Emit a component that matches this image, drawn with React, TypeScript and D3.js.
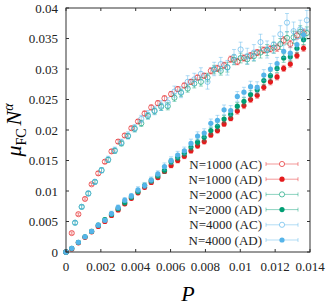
import React from 'react';
import * as d3 from 'd3';

// sampling points (AD runs and N=1000 AC share the first grid)
const P_GRID = [0, 0.00033, 0.00071, 0.00109, 0.00147, 0.00185, 0.00223, 0.00261, 0.00299, 0.00337,
  0.00375, 0.00413, 0.00451, 0.00489, 0.00527, 0.00565, 0.00603, 0.00641, 0.00679, 0.00717,
  0.00755, 0.00793, 0.00831, 0.00869, 0.00907, 0.00945, 0.00983, 0.01021, 0.01059, 0.01097,
  0.01135, 0.01173, 0.01211, 0.01249, 0.01287, 0.01325, 0.01363];
const P_GRID_SHIFT = [0, 0.00052, 0.0009, 0.00128, 0.00166, 0.00204, 0.00242, 0.0028, 0.00318, 0.00356,
  0.00394, 0.00432, 0.0047, 0.00508, 0.00546, 0.00584, 0.00622, 0.0066, 0.00698, 0.00736,
  0.00774, 0.00812, 0.0085, 0.00888, 0.00926, 0.00964, 0.01002, 0.0104, 0.01078, 0.01116,
  0.01154, 0.01192, 0.0123, 0.01268, 0.01306, 0.01344, 0.01382];

const ac1000 = [0, .0031, .0062, .0087, .0111, .0129, .0148, .0165, .0181, .0191, .0203, .0214, .0227, .0237,
  .0244, .0252, .0259, .0267, .0273, .0279, .0286, .0289, .0297, .0301, .0306, .0316, .0312, .0318, .0322,
  .0327, .0331, .0333, .0335, .0347, .0341, .0355, .0359];
const ac1000Err = [0, .0002, .0002, .0002, .0002, .0003, .0003, .0003, .0003, .0003, .0003, .0003, .0004, .0004,
  .0004, .0004, .0004, .0004, .0004, .0004, .0004, .0004, .0005, .0005, .0005, .0005, .0005, .0005, .0005,
  .0005, .0005, .0005, .0006, .0006, .0006, .0006, .0006];
const ad1000 = [0, .0005, .0015, .0024, .0033, .0042, .0050, .0060, .0069, .0079, .0088, .0097, .0106, .0114,
  .0122, .0132, .0142, .0150, .0157, .0166, .0174, .0181, .0192, .0199, .0210, .0219, .0231, .0240, .0250,
  .0257, .0270, .0279, .0287, .0301, .0308, .0322, .0334];
const ad1000Err = [0, .0001, .0002, .0002, .0002, .0002, .0002, .0003, .0003, .0003, .0003, .0003, .0003, .0003,
  .0003, .0003, .0004, .0004, .0004, .0004, .0004, .0004, .0004, .0004, .0004, .0004, .0005, .0005, .0005,
  .0005, .0005, .0005, .0005, .0005, .0005, .0005, .0005];

const ac2000 = [0, .0048, .0074, .0096, .0115, .0134, .0151, .0166, .0178, .0190, .0202, .0211, .0223, .0231,
  .0238, .0239, .0253, .0261, .0268, .0276, .0279, .0286, .0299, .0297, .0303, .0315, .0318, .0316, .0321,
  .0327, .0331, .0335, .0341, .0351, .0352, .0361, .0359];
const ac2000Err = [0, .0003, .0003, .0003, .0003, .0004, .0004, .0004, .0004, .0004, .0005, .0005, .0005, .0005,
  .0006, .0006, .0006, .0006, .0006, .0007, .0007, .0007, .0007, .0007, .0008, .0008, .0008, .0008, .0008,
  .0009, .0009, .0009, .0009, .0010, .0010, .0010, .0010];
const ad2000 = [0, .0006, .0016, .0025, .0034, .0044, .0053, .0062, .0071, .0081, .0090, .0099, .0109, .0117,
  .0125, .0134, .0148, .0155, .0162, .0172, .0180, .0188, .0199, .0206, .0218, .0226, .0239, .0247, .0258,
  .0266, .0281, .0289, .0301, .0318, .0320, .0334, .0348];
const ad2000Err = [0, .0002, .0002, .0002, .0003, .0003, .0003, .0003, .0003, .0004, .0004, .0004, .0004, .0004,
  .0004, .0005, .0005, .0005, .0005, .0005, .0005, .0006, .0006, .0006, .0006, .0006, .0006, .0006, .0007,
  .0007, .0007, .0007, .0007, .0007, .0007, .0008, .0008];

const ac4000 = [0, .0048, .0074, .0096, .0115, .0134, .0152, .0167, .0180, .0191, .0203, .0218, .0225, .0232,
  .0240, .0245, .0263, .0262, .0279, .0283, .0292, .0279, .0300, .0308, .0302, .0320, .0332, .0321, .0327,
  .0344, .0332, .0340, .0357, .0376, .0362, .0365, .0380];
const ac4000Err = [0, .0003, .0003, .0004, .0004, .0004, .0005, .0005, .0005, .0006, .0006, .0006, .0007, .0007,
  .0008, .0008, .0009, .0009, .0010, .0010, .0010, .0012, .0011, .0011, .0012, .0012, .0012, .0013, .0013,
  .0013, .0014, .0014, .0014, .0015, .0015, .0015, .0016];
const ad4000 = [0, .0006, .0016, .0025, .0034, .0044, .0052, .0063, .0073, .0085, .0092, .0102, .0109, .0118,
  .0128, .0140, .0150, .0159, .0166, .0178, .0190, .0195, .0211, .0216, .0233, .0232, .0255, .0262, .0271,
  .0270, .0290, .0300, .0309, .0329, .0326, .0340, .0356];
const ad4000Err = [0, .0002, .0002, .0003, .0003, .0003, .0003, .0004, .0004, .0004, .0004, .0005, .0005, .0005,
  .0005, .0006, .0006, .0006, .0006, .0007, .0007, .0007, .0007, .0008, .0008, .0008, .0008, .0008, .0009,
  .0009, .0009, .0009, .0010, .0010, .0010, .0010, .0010];

const X_TICKS = [0, 0.002, 0.004, 0.006, 0.008, 0.01, 0.012, 0.014];
const Y_TICKS = [0, 0.005, 0.01, 0.015, 0.02, 0.025, 0.03, 0.035, 0.04];

const RED = '#e41a1c';
const GREEN = '#009e73';
const BLUE = '#56b4e9';

const series = [
  { label: 'N=1000 (AC)', xs: P_GRID, ys: ac1000, err: ac1000Err, color: RED, open: true },
  { label: 'N=1000 (AD)', xs: P_GRID, ys: ad1000, err: ad1000Err, color: RED, open: false },
  { label: 'N=2000 (AC)', xs: P_GRID_SHIFT, ys: ac2000, err: ac2000Err, color: GREEN, open: true },
  { label: 'N=2000 (AD)', xs: P_GRID, ys: ad2000, err: ad2000Err, color: GREEN, open: false },
  { label: 'N=4000 (AC)', xs: P_GRID_SHIFT, ys: ac4000, err: ac4000Err, color: BLUE, open: true },
  { label: 'N=4000 (AD)', xs: P_GRID, ys: ad4000, err: ad4000Err, color: BLUE, open: false },
];

const W = 332;
const H = 305;
const margin = { top: 8, right: 22, bottom: 53, left: 66 };
const FONT = '"Liberation Serif", "DejaVu Serif", serif';

export default function App() {
  const x = d3.scaleLinear().domain([0, 0.014]).range([margin.left, W - margin.right]);
  const y = d3.scaleLinear().domain([0, 0.04]).range([H - margin.bottom, margin.top]);
  const fmt = d3.format('~g');
  const cap = 2;
  const r = 2.6;

  return (
    <svg width={W} height={H} style={{ position: 'absolute', left: 0, top: 0 }} fontFamily={FONT}>
      <rect width={W} height={H} fill="#fff" />
      {/* data */}
      <g>
        {series.map((s, si) => (
          <g key={si}>
            {s.ys.map((v, i) => {
              const cx = x(s.xs[i]);
              const y0 = y(v - s.err[i]);
              const y1 = y(v + s.err[i]);
              return (
                <g key={i} stroke={s.color}>
                  <g strokeOpacity={0.45} strokeWidth={1}>
                    <line x1={cx} x2={cx} y1={y0} y2={y1} />
                    <line x1={cx - cap} x2={cx + cap} y1={y0} y2={y0} />
                    <line x1={cx - cap} x2={cx + cap} y1={y1} y2={y1} />
                  </g>
                  {s.open ? (
                    <circle cx={cx} cy={y(v)} r={r} fill="none" strokeWidth={1} strokeOpacity={0.65} />
                  ) : (
                    <circle cx={cx} cy={y(v)} r={r} fill={s.color} stroke="none" />
                  )}
                </g>
              );
            })}
          </g>
        ))}
      </g>
      {/* axes frame and ticks */}
      <g stroke="#333" strokeWidth={1}>
        {X_TICKS.map((t, i) => (
          <g key={i}>
            <line x1={x(t)} x2={x(t)} y1={y(0)} y2={y(0) - 3} />
            <line x1={x(t)} x2={x(t)} y1={y(0.04)} y2={y(0.04) + 3} />
          </g>
        ))}
        {Y_TICKS.map((t, i) => (
          <g key={i}>
            <line x1={x(0)} x2={x(0) + 3} y1={y(t)} y2={y(t)} />
            <line x1={x(0.014)} x2={x(0.014) - 3} y1={y(t)} y2={y(t)} />
          </g>
        ))}
        <rect x={x(0)} y={y(0.04)} width={x(0.014) - x(0)} height={y(0) - y(0.04)} fill="none" />
      </g>
      <g fontSize={13} fill="#222">
        {X_TICKS.map((t, i) => (
          <text key={i} x={x(t)} y={y(0) + 19} textAnchor="middle">{fmt(t)}</text>
        ))}
        {Y_TICKS.map((t, i) => (
          <text key={i} x={x(0) - 8} y={y(t) + 4.5} textAnchor="end">{fmt(t)}</text>
        ))}
      </g>
      {/* axis titles */}
      <text x={x(0.007)} y={H - 4} fontSize={22} fontStyle="italic" textAnchor="middle">P</text>
      <text transform={`translate(21,${y(0.02)}) rotate(-90)`} fontSize={22} textAnchor="middle">
        <tspan fontStyle="italic">μ</tspan>
        <tspan fontSize={14} dy={5}>FC</tspan>
        <tspan dy={-5} dx={3} fontStyle="italic">N</tspan>
        <tspan fontSize={14} dy={-8} fontStyle="italic">α</tspan>
      </text>
      {/* legend */}
      <g fontSize={13} fill="#222">
        {series.map((s, i) => {
          const ly = 164 + i * 15.2;
          const x0 = 266;
          const x1 = 298;
          const mx = (x0 + x1) / 2;
          return (
            <g key={i}>
              <text x={262} y={ly + 4.5} textAnchor="end">{s.label}</text>
              <g stroke={s.color} strokeOpacity={0.45}>
                <line x1={x0} x2={x1} y1={ly} y2={ly} />
                <line x1={x0} x2={x0} y1={ly - cap} y2={ly + cap} />
                <line x1={x1} x2={x1} y1={ly - cap} y2={ly + cap} />
              </g>
              {s.open ? (
                <circle cx={mx} cy={ly} r={r} fill="#fff" stroke={s.color} strokeOpacity={0.65} />
              ) : (
                <circle cx={mx} cy={ly} r={r} fill={s.color} />
              )}
            </g>
          );
        })}
      </g>
    </svg>
  );
}
